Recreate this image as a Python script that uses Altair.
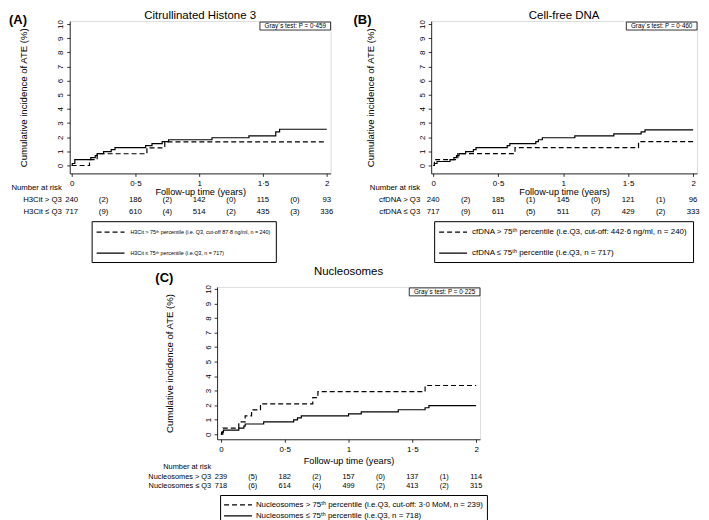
import altair as alt
import pandas as pd

FONT = "Liberation Sans"

TIME_TICKS = [0, 0.5, 1, 1.5, 2]
RISK_TIMES = [0, 0.25, 0.5, 0.75, 1, 1.25, 1.5, 1.75, 2]
Y_TICKS = [0, 1, 2, 3, 4, 5, 6, 7, 8, 9, 10]
X_TITLE = "Follow-up time (years)"
Y_TITLE = "Cumulative incidence of ATE (%)"
RISK_HEADER = "Number at risk"

# ---------------- Panel A : Citrullinated Histone 3
A_LETTER = "(A)"
A_TITLE = "Citrullinated Histone 3"
A_GRAY = "Gray´s test: P = 0·459"
A_HI_LABEL = "H3Cit > 75ᵗʰ percentile (i.e. Q3, cut-off 87·8 ng/ml, n = 240)"
A_LO_LABEL = "H3Cit ≤ 75ᵗʰ percentile (i.e.Q3, n = 717)"
A_HI_ROW = "H3Cit > Q3"
A_LO_ROW = "H3Cit ≤ Q3"
A_HI_TIME = [0, 0.14, 0.20, 0.59, 0.73, 2.0]
A_HI_CIF = [0, 0.42, 0.83, 1.25, 1.67, 1.67]
A_LO_TIME = [0, 0.005, 0.025, 0.15, 0.185, 0.20, 0.25, 0.31, 0.34, 0.58, 0.63, 0.71, 0.76, 1.10, 1.39, 1.60, 1.63, 2.0]
A_LO_CIF = [0, 0.14, 0.42, 0.56, 0.70, 0.84, 0.98, 1.12, 1.26, 1.40, 1.54, 1.68, 1.82, 1.96, 2.10, 2.38, 2.56, 2.56]
A_RISK_HI = ["240", "(2)", "186", "(2)", "142", "(0)", "115", "(0)", "93"]
A_RISK_LO = ["717", "(9)", "610", "(4)", "514", "(2)", "435", "(3)", "336"]

# ---------------- Panel B : Cell-free DNA
B_LETTER = "(B)"
B_TITLE = "Cell-free DNA"
B_GRAY = "Gray´s test: P = 0·460"
B_HI_LABEL = "cfDNA > 75ᵗʰ percentile (i.e.Q3, cut-off: 442·6 ng/ml, n = 240)"
B_LO_LABEL = "cfDNA ≤ 75ᵗʰ percentile (i.e.Q3, n = 717)"
B_HI_ROW = "cfDNA > Q3"
B_LO_ROW = "cfDNA ≤ Q3"
B_HI_TIME = [0, 0.01, 0.19, 0.63, 1.58, 2.0]
B_HI_CIF = [0, 0.42, 0.84, 1.26, 1.68, 1.68]
B_LO_TIME = [0, 0.01, 0.03, 0.13, 0.16, 0.18, 0.20, 0.25, 0.31, 0.33, 0.57, 0.59, 0.79, 0.81, 0.84, 1.09, 1.39, 1.60, 1.63, 2.0]
B_LO_CIF = [0, 0.14, 0.28, 0.42, 0.56, 0.70, 0.84, 0.98, 1.12, 1.26, 1.40, 1.54, 1.68, 1.82, 1.96, 2.10, 2.24, 2.38, 2.52, 2.52]
B_RISK_HI = ["240", "(2)", "185", "(1)", "145", "(0)", "121", "(1)", "96"]
B_RISK_LO = ["717", "(9)", "611", "(5)", "511", "(2)", "429", "(2)", "333"]

# ---------------- Panel C : Nucleosomes
C_LETTER = "(C)"
C_TITLE = "Nucleosomes"
C_GRAY = "Gray´s test: P = 0·225"
C_HI_LABEL = "Nucleosomes > 75ᵗʰ percentile (i.e.Q3, cut-off: 3·0 MoM, n = 239)"
C_LO_LABEL = "Nucleosomes ≤ 75ᵗʰ percentile (i.e.Q3, n = 718)"
C_HI_ROW = "Nucleosomes > Q3"
C_LO_ROW = "Nucleosomes ≤ Q3"
C_HI_TIME = [0, 0.015, 0.14, 0.19, 0.24, 0.31, 0.72, 0.76, 1.60, 2.0]
C_HI_CIF = [0, 0.42, 0.84, 1.26, 1.67, 2.09, 2.51, 2.93, 3.35, 3.35]
C_LO_TIME = [0, 0.005, 0.02, 0.14, 0.18, 0.19, 0.335, 0.57, 0.60, 0.63, 1.0, 1.1, 1.39, 1.60, 1.63, 2.0]
C_LO_CIF = [0, 0.14, 0.28, 0.42, 0.56, 0.70, 0.84, 0.98, 1.12, 1.26, 1.40, 1.54, 1.68, 1.82, 1.96, 1.96]
C_RISK_HI = ["239", "(5)", "182", "(2)", "157", "(0)", "137", "(1)", "114"]
C_RISK_LO = ["718", "(6)", "614", "(4)", "499", "(2)", "413", "(2)", "315"]


def make_panel(letter, title, gray, hi_label, lo_label, hi_row, lo_row,
               hi_t, hi_c, lo_t, lo_c, risk_hi, risk_lo, L):
    W, H = L["w"], L["h"]
    lines_df = pd.concat([
        pd.DataFrame({"t": hi_t, "cif": hi_c, "grp": hi_label}),
        pd.DataFrame({"t": lo_t, "cif": lo_c, "grp": lo_label}),
    ], ignore_index=True)
    risk_df = pd.DataFrame({
        "t": RISK_TIMES + RISK_TIMES,
        "txt": risk_hi + risk_lo,
        "row": [0] * len(RISK_TIMES) + [1] * len(RISK_TIMES),
    })
    lab_df = pd.DataFrame({"txt": [RISK_HEADER, hi_row, lo_row], "row": [-1, 0, 1]})
    one = lambda s: pd.DataFrame({"txt": [s]})

    xs = alt.Scale(domain=[L["x0"], L["x1"]], nice=False, zero=False)
    x_enc = alt.X("t:Q", scale=xs, axis=alt.Axis(
        values=TIME_TICKS, labelExpr="replace(toString(datum.value), '.', '·')",
        title=X_TITLE, grid=False, tickSize=3, labelFontSize=8, titleFontSize=9.2,
        titleFontWeight="normal", labelPadding=3, titlePadding=L["xtpad"],
        labelFont=FONT, titleFont=FONT, domainColor="black", tickColor="black",
        labelColor="black", titleColor="black", domainWidth=0.8, tickWidth=0.8,
        labelFlush=False, labelOverlap=False))
    y_enc = alt.Y("cif:Q", scale=alt.Scale(domain=[L["y0"], L["y1"]], nice=False, zero=False),
                  axis=alt.Axis(values=Y_TICKS, title=Y_TITLE, grid=False, tickSize=3,
                                labelAngle=270, labelAlign="center", labelBaseline="bottom",
                                labelFontSize=8, titleFontSize=9.6, titleFontWeight="normal",
                                labelPadding=2, titlePadding=L["ytpad"], labelFont=FONT,
                                titleFont=FONT, domainColor="black", tickColor="black",
                                labelColor="black", titleColor="black", domainWidth=0.8,
                                tickWidth=0.8, labelFlush=False, labelOverlap=False))

    legend = alt.Legend(orient="none", legendX=L["lx"], legendY=L["ly"], title=None,
                        direction="vertical", symbolType="M-2.8,0H2.8", symbolSize=100,
                        symbolStrokeWidth=1.2, symbolStrokeColor="black",
                        symbolFillColor="transparent", symbolOffset=8,
                        labelFont=FONT, labelFontSize=L["lfs"], labelColor="black",
                        labelLimit=600, strokeColor="black", fillColor="white",
                        padding=L["lpad"], rowPadding=L["lrow"], labelOffset=L["loff"])

    lines = alt.Chart(lines_df).mark_line(interpolate="step-after", color="black",
                                          strokeWidth=1.2).encode(
        x=x_enc, y=y_enc,
        strokeDash=alt.StrokeDash("grp:N", scale=alt.Scale(domain=[hi_label, lo_label],
                                                           range=[[5, 3], [1, 0]]),
                                  legend=legend))

    ry = alt.Y("row:Q", scale=alt.Scale(domain=[-1, 1], range=[L["r_nar"], L["r_lo"]], nice=False),
               axis=None)
    risk = alt.Chart(risk_df).mark_text(font=FONT, fontSize=L["rfs"], color="black").encode(
        x=x_enc, y=ry, text="txt:N")
    labels = alt.Chart(lab_df).mark_text(font=FONT, fontSize=L["rfs"], color="black",
                                         align="right").encode(
        x=alt.value(L["rlx"]), y=ry, text="txt:N")

    gx0, gx1, gy0, gy1 = W - 71, W, 1, 9
    gbox = alt.Chart(one(gray)).mark_rect(fill="white", stroke="black", strokeWidth=0.8).encode(
        x=alt.value(gx0), x2=alt.value(gx1), y=alt.value(gy0), y2=alt.value(gy1))
    gtext = alt.Chart(one(gray)).mark_text(font=FONT, fontSize=6.3, color="black").encode(
        x=alt.value((gx0 + gx1) / 2), y=alt.value((gy0 + gy1) / 2), text="txt:N")

    let = alt.Chart(one(letter)).mark_text(font=FONT, fontSize=13, fontWeight="bold",
                                           color="black", align="left").encode(
        x=alt.value(L["letx"]), y=alt.value(L["lety"]), text="txt:N")
    ttl = alt.Chart(one(title)).mark_text(font=FONT, fontSize=11.5, color="black").encode(
        x=alt.value(W / 2), y=alt.value(L["ty"]), text="txt:N")

    return alt.layer(lines, risk, labels, gbox, gtext, let, ttl).resolve_scale(
        y="independent").properties(width=W, height=H)


LA = dict(w=262, h=153, x0=-0.015, x1=2.03, y0=-0.56, y1=10.21, xtpad=0, ytpad=28,
          lx=22, ly=201, lfs=5.4, lpad=5, lrow=11, loff=14,
          r_nar=168, r_lo=192, rfs=7.8, rlx=-8, letx=-61, lety=-1, ty=-5)
LB = dict(LA, w=267, lx=3, lfs=8.0, loff=13, letx=-78, rlx=-11, ytpad=43)
LC = dict(w=264, h=153, x0=-0.03, x1=2.03, y0=-0.35, y1=10.14, xtpad=3, ytpad=30,
          lx=3, ly=209, lfs=7.9, lpad=4, lrow=1, loff=12,
          r_nar=181, r_lo=200, rfs=7.4, rlx=-6, letx=-62, lety=-9, ty=-15)

pA = make_panel(A_LETTER, A_TITLE, A_GRAY, A_HI_LABEL, A_LO_LABEL, A_HI_ROW, A_LO_ROW,
                A_HI_TIME, A_HI_CIF, A_LO_TIME, A_LO_CIF, A_RISK_HI, A_RISK_LO, LA)
pB = make_panel(B_LETTER, B_TITLE, B_GRAY, B_HI_LABEL, B_LO_LABEL, B_HI_ROW, B_LO_ROW,
                B_HI_TIME, B_HI_CIF, B_LO_TIME, B_LO_CIF, B_RISK_HI, B_RISK_LO, LB)
pC = make_panel(C_LETTER, C_TITLE, C_GRAY, C_HI_LABEL, C_LO_LABEL, C_HI_ROW, C_LO_ROW,
                C_HI_TIME, C_HI_CIF, C_LO_TIME, C_LO_CIF, C_RISK_HI, C_RISK_LO, LC)

# empty spacer view that pushes panel C to the right
spacer = alt.Chart(pd.DataFrame({"v": [0]})).mark_text(text=" ", opacity=0).properties(
    width=78, height=1)

indep = dict(x="independent", y="independent", strokeDash="independent")
top = alt.hconcat(pA, pB, spacing=18).resolve_scale(**indep).resolve_legend(strokeDash="independent")
bottom = alt.hconcat(spacer, pC, spacing=0).resolve_scale(**indep).resolve_legend(strokeDash="independent")
chart = alt.vconcat(top, bottom, spacing=2).resolve_scale(**indep).resolve_legend(
    strokeDash="independent").properties(padding=0).configure_view(
    stroke="transparent", strokeWidth=0).configure(font=FONT)

chart.save("out.html", embed_options={"renderer": "svg", "actions": False})
